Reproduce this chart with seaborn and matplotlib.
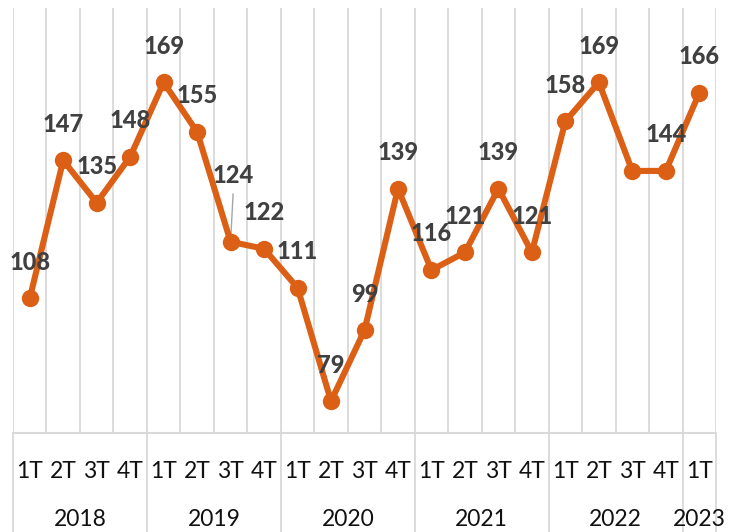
import matplotlib
matplotlib.use("Agg")
import matplotlib.pyplot as plt
import seaborn as sns
import pandas as pd

years = ["2018", "2019", "2020", "2021", "2022", "2023"]
quarters = ["1T", "2T", "3T", "4T"]
values = [108, 147, 135, 148,
          169, 155, 124, 122,
          111, 79, 99, 139,
          116, 121, 139, 121,
          158, 169, 144, 144,
          166]
# data labels shown above each point (None = label not drawn)
labels = ["108", "147", "135", "148",
          "169", "155", "124", "122",
          "111", "79", "99", "139",
          "116", "121", "139", "121",
          "158", "169", None, "144",
          "166"]

tick_labels = [quarters[i % 4] for i in range(len(values))]
df = pd.DataFrame({"idx": range(len(values)), "valor": values})

sns.set_theme(style="white")
plt.rcParams["font.family"] = ["Lato", "DejaVu Sans"]

W, H = 731, 532
fig = plt.figure(figsize=(W / 100, H / 100), dpi=100)
left, right, top, bottom = 13, 716, 8, 433
ax = fig.add_axes([left / W, 1 - bottom / H, (right - left) / W, (bottom - top) / H])

orange = "#DC5F16"
grid_c = "#D9D9D9"

sns.lineplot(data=df, x="idx", y="valor", ax=ax, color=orange, lw=4.4,
             marker="o", markersize=12.5, markeredgewidth=0, zorder=3)

n = len(values)
ax.set_xlim(-0.5, n - 0.5)
ax.set_ylim(70, 190)
ax.set_yticks([])
ax.set_ylabel("")
ax.set_xlabel("")

# vertical gridlines at category boundaries
for b in range(n + 1):
    ax.axvline(b - 0.5, color=grid_c, lw=1.3, zorder=1)

for s in ["top", "right", "left"]:
    ax.spines[s].set_visible(False)
ax.spines["bottom"].set_color(grid_c)
ax.spines["bottom"].set_linewidth(1.5)

ax.set_xticks(range(n))
ax.set_xticklabels(tick_labels, fontsize=16.5, color="#111111")
ax.tick_params(axis="x", length=0, pad=20)

# year group separators and labels below the axis
axh = bottom - top
sep_low = (bottom - H) / axh
year_starts = [0, 4, 8, 12, 16, 20]
for ys in year_starts + [n]:
    ax.plot([ys - 0.5, ys - 0.5], [sep_low, 0], transform=ax.get_xaxis_transform(),
            color=grid_c, lw=1.3, clip_on=False)
for yr, ys in zip(years, year_starts):
    end = min(ys + 4, n)
    ax.text((ys + end - 1) / 2, (bottom - 519) / axh, yr, transform=ax.get_xaxis_transform(),
            ha="center", va="center", fontsize=16.5, color="#111111")

# data labels
for i, (v, lab) in enumerate(zip(values, labels)):
    if lab is None:
        continue
    if lab == "124":
        ax.annotate(lab, (i, v), xytext=(1.5, 47.5), textcoords="offset points",
                    ha="center", va="center", fontsize=17, fontweight="black", color="#404040",
                    zorder=4)
        ax.annotate("", (i, v), xytext=(1.8, 34.5), textcoords="offset points",
                    arrowprops=dict(arrowstyle="-", color="#A6A6A6", lw=1.0,
                                    shrinkA=0, shrinkB=0), zorder=2)
    else:
        ax.annotate(lab, (i, v), xytext=(0, 26), textcoords="offset points",
                    ha="center", va="center", fontsize=17, fontweight="black", color="#404040",
                    zorder=4)

fig.savefig("out.png", dpi=100, facecolor="white")
